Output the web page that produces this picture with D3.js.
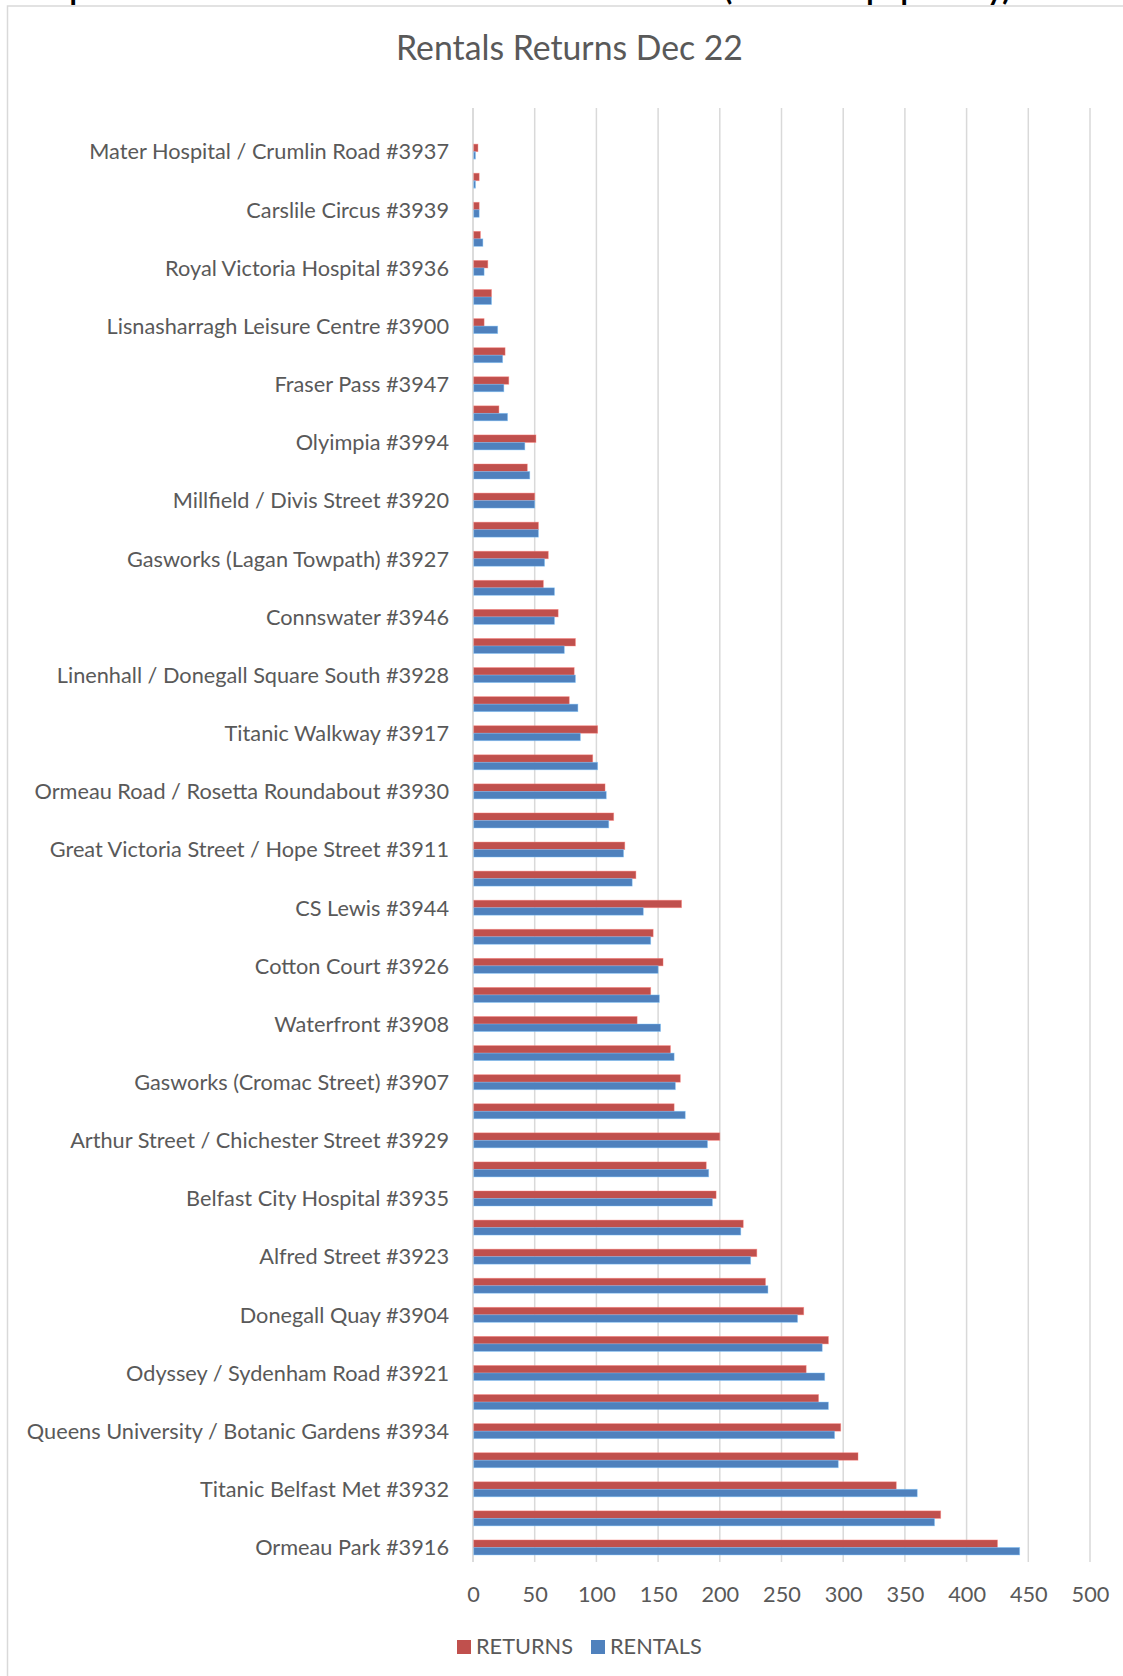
<!DOCTYPE html>
<html>
<head>
<meta charset="utf-8">
<script src="https://cdn.jsdelivr.net/npm/d3@7"></script>
<style>
  html, body { margin: 0; padding: 0; background: #ffffff; overflow: hidden; }
  svg { display: block; }
</style>
</head>
<body>
<svg id="chart" width="1123" height="1676"></svg>
<script>
// ---- data (Excel order: first category drawn at the bottom) ----
const stations = [
  "Ormeau Park #3916", null, "Titanic Belfast Met #3932", null,
  "Queens University / Botanic Gardens #3934", null, "Odyssey / Sydenham Road #3921", null,
  "Donegall Quay #3904", null, "Alfred Street #3923", null,
  "Belfast City Hospital #3935", null, "Arthur Street / Chichester Street #3929", null,
  "Gasworks (Cromac Street) #3907", null, "Waterfront #3908", null,
  "Cotton Court #3926", null, "CS Lewis #3944", null,
  "Great Victoria Street / Hope Street #3911", null, "Ormeau Road / Rosetta Roundabout #3930", null,
  "Titanic Walkway #3917", null, "Linenhall / Donegall Square South #3928", null,
  "Connswater #3946", null, "Gasworks (Lagan Towpath) #3927", null,
  "Millfield / Divis Street #3920", null, "Olyimpia #3994", null,
  "Fraser Pass #3947", null, "Lisnasharragh Leisure Centre #3900", null,
  "Royal Victoria Hospital #3936", null, "Carslile Circus #3939", null,
  "Mater Hospital / Crumlin Road #3937", null
];
const returnsValues = [
  425, 379, 343, 312, 298, 280, 270, 288, 268, 237,
  230, 219, 197, 189, 200, 163, 168, 160, 133, 144,
  154, 146, 169, 132, 123, 114, 107, 97, 101, 78,
  82, 83, 69, 57, 61, 53, 50, 44, 51, 21,
  29, 26, 9, 15, 12, 6, 5, 5, 4, null
];
const rentalsValues = [
  443, 374, 360, 296, 293, 288, 285, 283, 263, 239,
  225, 217, 194, 191, 190, 172, 164, 163, 152, 151,
  150, 144, 138, 129, 122, 110, 108, 101, 87, 85,
  83, 74, 66, 66, 58, 53, 50, 46, 42, 28,
  25, 24, 20, 15, 9, 8, 5, 2, 2, null
];
const seriesNames = ["RETURNS", "RENTALS"];
const seriesColors = ["#C0504D", "#4F81BD"];
const xTicks = [0, 50, 100, 150, 200, 250, 300, 350, 400, 450, 500];
const chartTitle = "Rentals Returns Dec 22";
const pageHeading = "Top 50 stations: rentals and returns";
const pageHeading2 = "(sorted on popularity)";

// ---- layout ----
const svg = d3.select("#chart");
const FONT = "Lato, 'Open Sans', sans-serif";
const TEXT = "#595959";
const plot = { left: 473, right: 1090, top: 108, bottom: 1562 };

function fitSize(str, targetW, weight) {
  const t = svg.append("text").attr("font-family", FONT).attr("font-size", 40)
    .attr("font-weight", weight || "normal").text(str);
  const w = t.node().getComputedTextLength();
  t.remove();
  return 40 * targetW / w;
}
const labelSize = fitSize("Mater Hospital / Crumlin Road #3937", 360);
const titleSize = fitSize(chartTitle, 347);

// clipped page heading above the chart frame (only its descenders show)
svg.append("text")
  .attr("x", 38).attr("y", -0.5)
  .attr("font-family", FONT).attr("font-weight", "bold").attr("font-size", 30)
  .attr("fill", "#000")
  .text(pageHeading)
  .append("tspan").attr("x", 724).text(pageHeading2);

// chart frame
svg.append("rect")
  .attr("x", 7.5).attr("y", 6).attr("width", 1140).attr("height", 1700)
  .attr("fill", "#fff").attr("stroke", "#d9d9d9").attr("stroke-width", 1.5);

// title
svg.append("text")
  .attr("x", 569.5).attr("y", 60)
  .attr("text-anchor", "middle")
  .attr("font-family", FONT).attr("font-size", titleSize).attr("fill", TEXT)
  .text(chartTitle);

// scales
const idx = d3.range(stations.length);
const x = d3.scaleLinear().domain([0, 500]).range([plot.left, plot.right]);
const y = d3.scaleBand()
  .domain(idx.slice().reverse())
  .range([plot.top, plot.bottom])
  .paddingInner(0.485).paddingOuter(0.2425);
const ySub = d3.scaleBand().domain(seriesNames).range([0, y.bandwidth()]);
const color = d3.scaleOrdinal().domain(seriesNames).range(seriesColors);

// gridlines
svg.append("g").selectAll("line").data(xTicks).join("line")
  .attr("x1", d => x(d)).attr("x2", d => x(d))
  .attr("y1", plot.top).attr("y2", plot.bottom)
  .attr("stroke", d => d === 0 ? "#cfcfcf" : "#d9d9d9")
  .attr("stroke-width", 1.5);

// x axis labels
const xAxis = d3.axisBottom(x).tickValues(xTicks).tickSize(0).tickPadding(0);
const gx = svg.append("g").attr("transform", `translate(0,${plot.bottom})`).call(xAxis);
gx.select(".domain").remove();
gx.selectAll("text")
  .attr("font-family", FONT).attr("font-size", labelSize).attr("fill", TEXT)
  .attr("dy", null).attr("y", 40);

// y axis labels (every other category, as in the original)
const yAxis = d3.axisLeft(y).tickSize(0).tickPadding(0)
  .tickFormat(i => stations[i] || "");
const gy = svg.append("g").attr("transform", `translate(449,0)`).call(yAxis);
gy.select(".domain").remove();
gy.selectAll(".tick").filter(i => !stations[i]).remove();
gy.selectAll("text")
  .attr("font-family", FONT).attr("font-size", labelSize).attr("fill", TEXT)
  .attr("dy", "0.36em");

// bars
const rows = idx.map(i => ({
  i,
  values: [
    { key: "RETURNS", v: returnsValues[i] },
    { key: "RENTALS", v: rentalsValues[i] }
  ].filter(d => d.v != null)
}));
const groups = svg.append("g").selectAll("g").data(rows).join("g")
  .attr("transform", d => `translate(0,${y(d.i)})`);
groups.selectAll("rect").data(d => d.values).join("rect")
  .attr("x", x(0) + 0.75)
  .attr("y", d => ySub(d.key))
  .attr("width", d => Math.max(0, x(d.v) - x(0) - 0.75))
  .attr("height", ySub.bandwidth())
  .attr("fill", d => color(d.key))
  .attr("stroke", d => d3.color(color(d.key)).brighter(1.2).copy({ opacity: 0.5 }))
  .attr("stroke-width", 0.8);

// legend
const legend = svg.append("g");
const legendItems = [
  { key: "RETURNS", x: 457 },
  { key: "RENTALS", x: 591 }
];
legendItems.forEach(it => {
  legend.append("rect")
    .attr("x", it.x).attr("y", 1640).attr("width", 14).attr("height", 14)
    .attr("fill", color(it.key));
  legend.append("text")
    .attr("x", it.x + 19).attr("y", 1654)
    .attr("font-family", FONT).attr("font-size", labelSize).attr("fill", TEXT)
    .text(it.key);
});
</script>
</body>
</html>
